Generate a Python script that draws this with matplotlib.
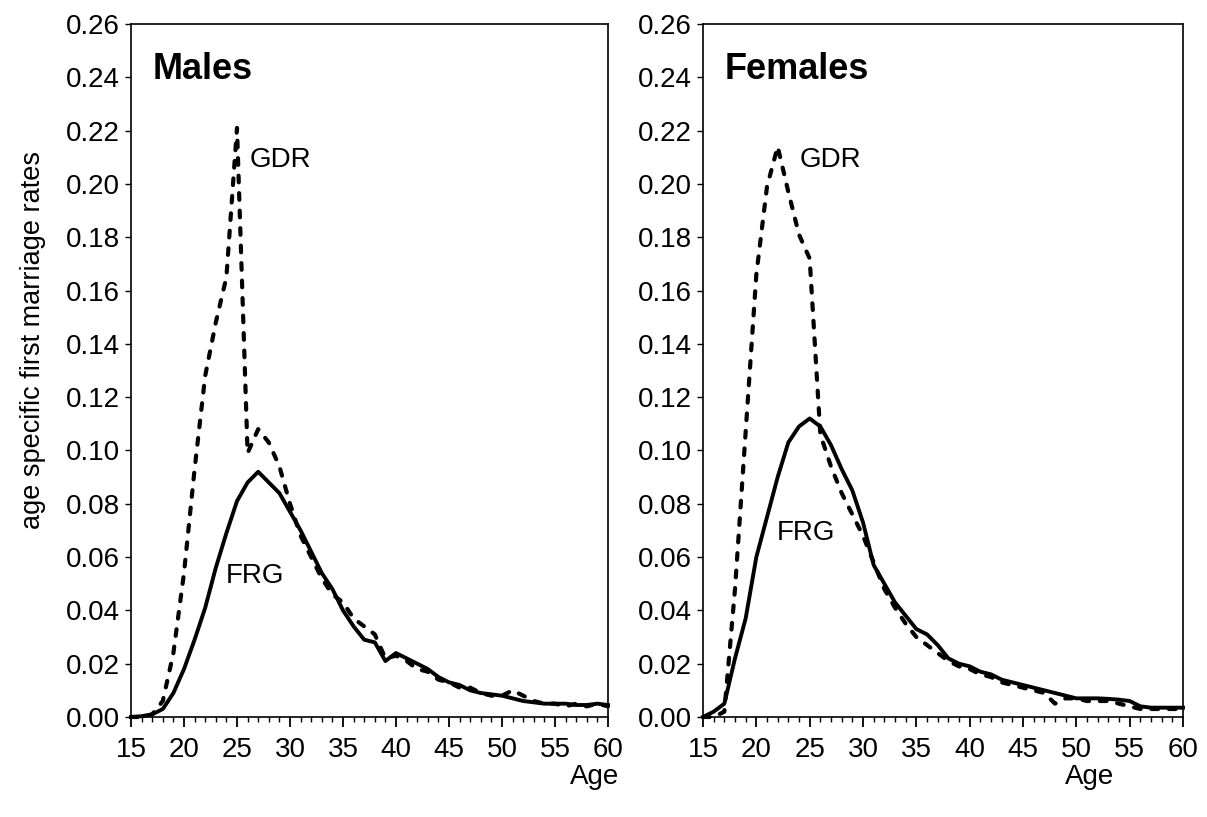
import matplotlib
matplotlib.use("Agg")
import matplotlib.pyplot as plt
from matplotlib.ticker import MultipleLocator, FormatStrFormatter

plt.rcParams['font.family'] = ['Liberation Sans', 'DejaVu Sans']

# ages 15..60
ages = list(range(15, 61))

males_gdr = [0.000, 0.000, 0.001, 0.006, 0.024, 0.054, 0.093, 0.128, 0.148, 0.165,
             0.221, 0.099, 0.108, 0.103, 0.094, 0.080, 0.068, 0.060, 0.052, 0.046,
             0.043, 0.037, 0.034, 0.031, 0.022, 0.023, 0.021, 0.018, 0.017, 0.014,
             0.013, 0.011, 0.011, 0.009, 0.008, 0.008, 0.010, 0.008, 0.006, 0.005,
             0.005, 0.004, 0.005, 0.004, 0.005, 0.004]
males_frg = [0.000, 0.0003, 0.001, 0.003, 0.009, 0.018, 0.029, 0.041, 0.056, 0.069,
             0.081, 0.088, 0.092, 0.088, 0.084, 0.077, 0.070, 0.062, 0.054, 0.048,
             0.040, 0.034, 0.029, 0.028, 0.021, 0.024, 0.022, 0.020, 0.018, 0.015,
             0.013, 0.012, 0.010, 0.009, 0.0085, 0.008, 0.007, 0.006, 0.0055, 0.005,
             0.005, 0.005, 0.0045, 0.0045, 0.005, 0.0045]
females_gdr = [0.000, 0.000, 0.002, 0.048, 0.107, 0.166, 0.199, 0.214, 0.197, 0.181,
               0.172, 0.106, 0.094, 0.084, 0.076, 0.068, 0.058, 0.048, 0.041, 0.035,
               0.030, 0.027, 0.024, 0.021, 0.019, 0.018, 0.016, 0.015, 0.013, 0.012,
               0.011, 0.010, 0.009, 0.005, 0.007, 0.007, 0.006, 0.006, 0.006, 0.005,
               0.004, 0.003, 0.003, 0.003, 0.003, 0.003]
females_frg = [0.000, 0.002, 0.005, 0.022, 0.037, 0.060, 0.075, 0.090, 0.103, 0.109,
               0.112, 0.109, 0.102, 0.093, 0.085, 0.073, 0.057, 0.050, 0.043, 0.038,
               0.033, 0.031, 0.027, 0.022, 0.020, 0.019, 0.017, 0.016, 0.014, 0.013,
               0.012, 0.011, 0.010, 0.009, 0.008, 0.007, 0.007, 0.007, 0.0068, 0.0065,
               0.006, 0.004, 0.0035, 0.0035, 0.0035, 0.0035]

fig = plt.figure(figsize=(12.07, 8.17), dpi=100)
ax1 = fig.add_axes([131/1207, 100/817, 477/1207, 693/817])
ax2 = fig.add_axes([703/1207, 100/817, 480/1207, 693/817])

panels = [
    (ax1, males_gdr, males_frg, "Males", (26.2, 0.209), (23.9, 0.053)),
    (ax2, females_gdr, females_frg, "Females", (24.1, 0.209), (21.9, 0.069)),
]

for ax, gdr, frg, title, gdr_pos, frg_pos in panels:
    ax.plot(ages, frg, color='black', lw=2.8, solid_joinstyle='round', clip_on=False)
    ax.plot(ages, gdr, color='black', lw=3.0, dashes=(1.6, 2.6),
            dash_capstyle='round', clip_on=False)
    ax.set_xlim(15, 60)
    ax.set_ylim(0, 0.26)
    ax.xaxis.set_major_locator(MultipleLocator(5))
    ax.xaxis.set_minor_locator(MultipleLocator(1))
    ax.yaxis.set_major_locator(MultipleLocator(0.02))
    ax.yaxis.set_major_formatter(FormatStrFormatter('%.2f'))
    ax.tick_params(axis='both', which='major', labelsize=20, direction='out',
                   width=1.3, color='black')
    ax.tick_params(axis='x', which='major', length=7.5, pad=7)
    ax.tick_params(axis='x', which='minor', length=3.5, width=1.0)
    ax.tick_params(axis='y', which='major', length=4, pad=4, width=1.0)
    for sp in ax.spines.values():
        sp.set_linewidth(1.2)
    ax.text(0.046, 0.935, title, transform=ax.transAxes, fontsize=26,
            fontweight='bold', ha='left', va='center')
    ax.text(gdr_pos[0], gdr_pos[1], "GDR", fontsize=20, ha='left', va='center')
    ax.text(frg_pos[0], frg_pos[1], "FRG", fontsize=20, ha='left', va='center')

fig.text(595/1207, 1 - 777/817, "Age", fontsize=20, ha='center', va='center')
fig.text(1090/1207, 1 - 777/817, "Age", fontsize=20, ha='center', va='center')
fig.text(33/1207, 1 - 340/817, "age specific first marriage rates", fontsize=19.5,
         rotation=90, ha='center', va='center',
         family=['Liberation Sans Narrow', 'Liberation Sans', 'DejaVu Sans'])

fig.savefig("out.png", dpi=100, facecolor='white')
